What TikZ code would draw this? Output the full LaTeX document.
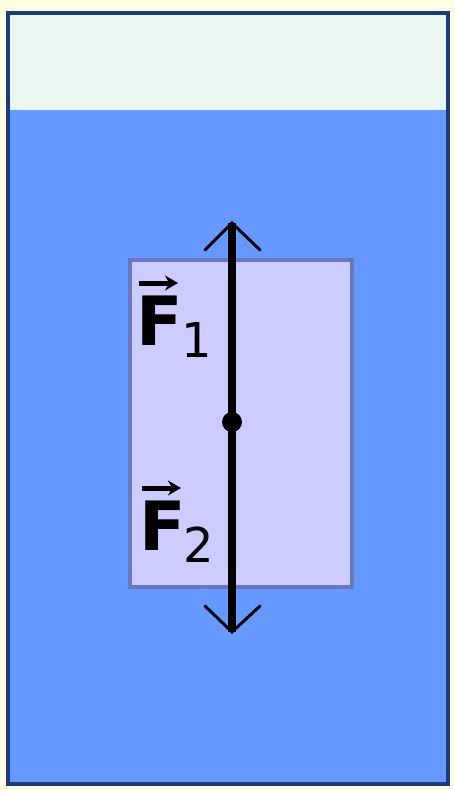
\documentclass[tikz,border=0pt]{standalone}
\usepackage{fontspec}
\setmainfont{DejaVu Sans}
\usetikzlibrary{arrows.meta}
\definecolor{bgy}{HTML}{FFFDE4}
\definecolor{air}{HTML}{EAF6F0}
\definecolor{water}{HTML}{6699FF}
\definecolor{boxfill}{HTML}{CCCCFF}
\definecolor{boxedge}{HTML}{6A78C0}
\definecolor{navy}{HTML}{1C3C78}
\begin{document}
\begin{tikzpicture}[x=1pt,y=-1pt,
  container/.style={draw=navy,line width=4.5pt},
  force/.style={line width=8pt},
  head/.style={line width=3pt,draw=black!90!navy,line cap=round,line join=miter},
  bigF/.style={font=\fontsize{68}{68}\selectfont\bfseries,inner sep=0pt,anchor=base west},
  subs/.style={font=\fontsize{48}{48}\selectfont,inner sep=0pt,anchor=base west},
  vecarr/.style={line width=5pt,-{Stealth[length=13pt,width=15pt]}}]
\useasboundingbox (0,0) rectangle (455,790);
\fill[bgy] (0,0) rectangle (455,790);
% container
\fill[air] (8,13) rectangle (448,110);
\fill[water] (8,110) rectangle (448,784);
\draw[container] (8,13) rectangle (448,784);
% body
\node[draw=boxedge,fill=boxfill,line width=3.5pt,minimum width=222pt,minimum height=327pt,inner sep=0pt,anchor=north west] (body) at (128,258) {};
% forces
\coordinate (c) at (232,422);
\coordinate (top) at (232,223);
\coordinate (bot) at (232,632);
\draw[force] (top) -- (bot);
\draw[head] (205,250) -- (top) -- (260,250);
\draw[head] (205,606) -- (bot) -- (260,606);
\fill (c) circle (10pt);
% labels
\node[bigF] (F1) at (136,345) {F};
\node[subs] (s1) at (181,357) {1};
\draw[vecarr] (139,283) -- (178,283);
\node[bigF] (F2) at (139,550) {F};
\node[subs] (s2) at (183,562) {2};
\draw[vecarr] (142,488) -- (181,488);
\end{tikzpicture}
\end{document}
